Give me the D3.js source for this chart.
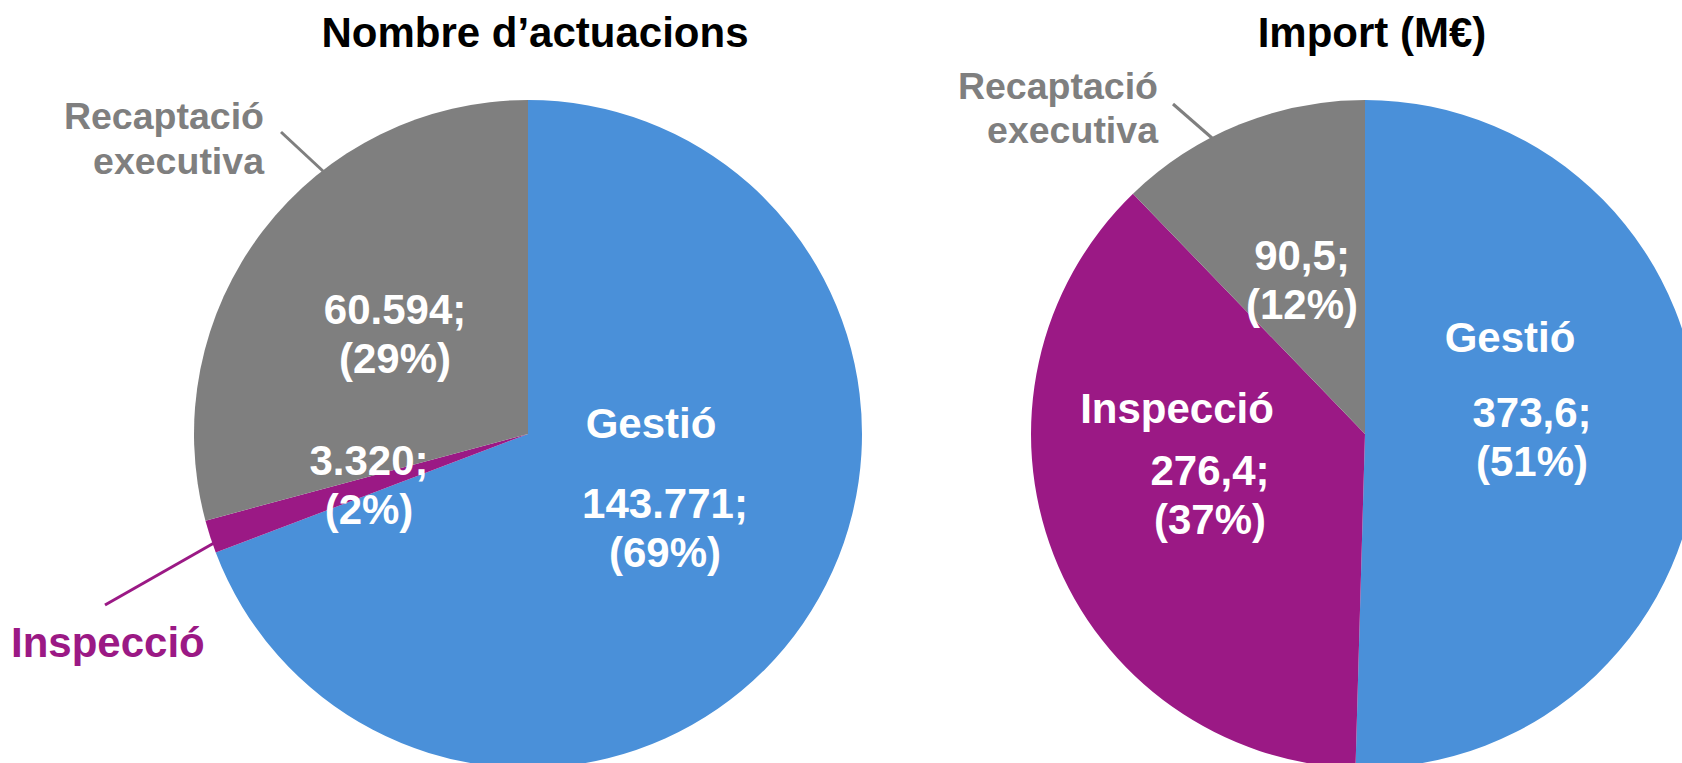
<!DOCTYPE html>
<html>
<head>
<meta charset="utf-8">
<script src="https://d3js.org/d3.v7.min.js"></script>
<style>
    body { margin: 0; background: #ffffff; }
    svg { display: block; font-family: 'Liberation Sans', Arial, sans-serif; font-weight: bold; }
</style>
</head>
<body>
<svg id="chart" width="1682" height="763"></svg>
<script>
// data
const categories = ['Gestió', 'Inspecció', 'Recaptació executiva'];
const countValues = [143771, 3320, 60594];
const countPct = [69, 2, 29];
const amountValues = [373.6, 276.4, 90.5];
const amountPct = [51, 37, 12];
const titles = ['Nombre d’actuacions', 'Import (M€)'];
const colors = ['#4a90d9', '#9b1985', '#7f7f7f'];

let config = {
    radius: 334,
    title_size: 42,
    label_size: 42,
    outside_size: 37.5,
    line_height: 49,
}

const ca = d3.formatLocale({ decimal: ',', thousands: '.', grouping: [3], currency: ['', '€'] });

// label anchors relative to pie centre (px)
let layouts = [
    {
        cx: 528, cy: 434,
        format: ca.format(',d'),
        inside: [
            { name: [123, 4], value: [137, 84] },
            { value: [-159, 41] },
            { value: [-133, -110] },
        ],
        outside: [
            null,
            { pos: [-517, 223], anchor: 'start', size: config.label_size, color: colors[1], lines: ['Inspecció'], leader: [[-423, 171], [-314, 109]], width: 3 },
            { pos: [-264, -305], anchor: 'end', size: config.outside_size, color: colors[2], lines: ['Recaptació', 'executiva'], gap: 45, leader: [[-247, -302], [-204, -262]], width: 3 },
        ],
    },
    {
        cx: 1365, cy: 434,
        format: ca.format(',.1f'),
        inside: [
            { name: [145, -82], value: [167, -7] },
            { name: [-188, -11], value: [-155, 51] },
            { value: [-63, -164] },
        ],
        outside: [
            null,
            null,
            { pos: [-207, -335], anchor: 'end', size: config.outside_size, color: colors[2], lines: ['Recaptació', 'executiva'], gap: 44, leader: [[-192, -330], [-153, -296]], width: 3 },
        ],
    },
];

const svg = d3.select('#chart');

const color = d3.scaleOrdinal().domain(categories).range(colors);
const arc = d3.arc().innerRadius(0).outerRadius(config.radius);
const pie = d3.pie().sort(null).value(d => d.value);

function drawPie(values, pcts, title, lay) {
    let data = categories.map((c, i) => ({ name: c, value: values[i], pct: pcts[i], i: i }));
    let g = svg.append('g').attr('transform', 'translate(' + lay.cx + ',' + lay.cy + ')');

    g.selectAll('path.slice')
        .data(pie(data))
        .enter().append('path')
        .classed('slice', true)
        .attr('d', arc)
        .attr('fill', d => color(d.data.name));

    // title
    svg.append('text')
        .attr('x', lay.cx + 7)
        .attr('y', 47)
        .attr('text-anchor', 'middle')
        .attr('font-size', config.title_size)
        .attr('fill', '#000')
        .text(title);

    // labels inside slices
    data.forEach(function(d) {
        let p = lay.inside[d.i];
        if (p.name) {
            g.append('text')
                .attr('x', p.name[0]).attr('y', p.name[1])
                .attr('text-anchor', 'middle')
                .attr('font-size', config.label_size)
                .attr('fill', '#fff')
                .text(d.name);
        }
        let t = g.append('text')
            .attr('text-anchor', 'middle')
            .attr('font-size', config.label_size)
            .attr('fill', '#fff');
        t.append('tspan').attr('x', p.value[0]).attr('y', p.value[1]).text(lay.format(d.value) + ';');
        t.append('tspan').attr('x', p.value[0]).attr('y', p.value[1] + config.line_height).text('(' + d.pct + '%)');
    });

    // category labels outside with leader lines
    lay.outside.forEach(function(o) {
        if (!o) return;
        g.append('line')
            .attr('x1', o.leader[0][0]).attr('y1', o.leader[0][1])
            .attr('x2', o.leader[1][0]).attr('y2', o.leader[1][1])
            .attr('stroke', o.color)
            .attr('stroke-width', o.width);
        let t = g.append('text')
            .attr('text-anchor', o.anchor)
            .attr('font-size', o.size)
            .attr('fill', o.color);
        o.lines.forEach(function(l, k) {
            t.append('tspan').attr('x', o.pos[0]).attr('y', o.pos[1] + k * (o.gap || 0)).text(l);
        });
    });
}

drawPie(countValues, countPct, titles[0], layouts[0]);
drawPie(amountValues, amountPct, titles[1], layouts[1]);
</script>
</body>
</html>
